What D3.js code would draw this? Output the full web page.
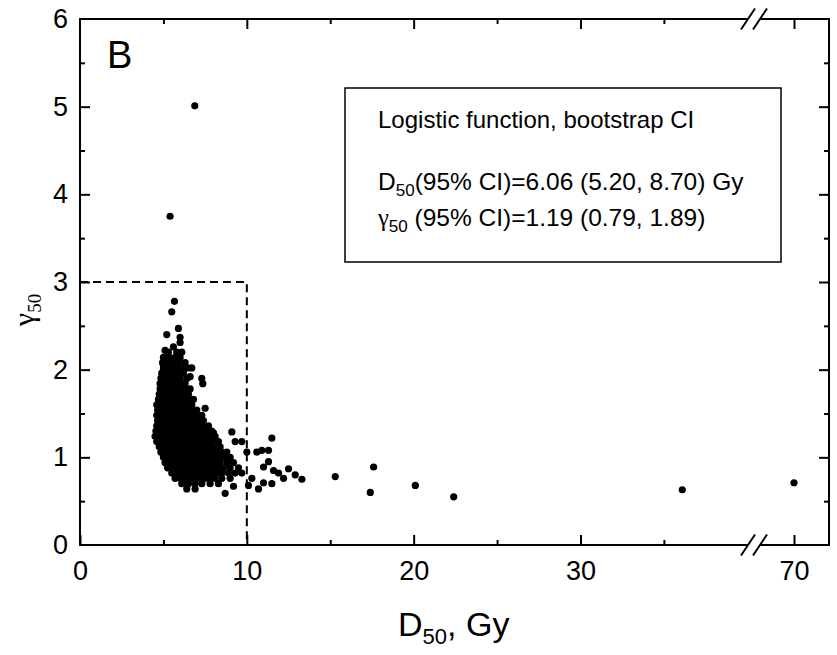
<!DOCTYPE html>
<html><head><meta charset="utf-8">
<script src="https://cdn.jsdelivr.net/npm/d3@7"></script>
<style>body{margin:0;background:#fff}svg{display:block}text{font-family:"Liberation Sans",Arial,sans-serif;fill:#000}</style>
</head><body>
<svg id="c" width="837" height="655"></svg>
<script>
// ---- data ----
const xTicksMajor = [0, 10, 20, 30];
const xTicksMinor = [5, 15, 25, 35];
const xTicksRight = [70];
const yTicksMajor = [0, 1, 2, 3, 4, 5, 6];
const yTicksMinor = [0.5, 1.5, 2.5, 3.5, 4.5, 5.5];
// dense bootstrap cluster, rows of [gamma50, [D50 values]]
const clusterRows = [
  [2.20, [5.3, 5.8]],
  [2.14, [5.0, 5.35, 5.7, 6.0]],
  [2.08, [4.95, 5.3, 5.6, 5.9, 6.3]],
  [2.02, [5.0, 5.2, 5.5, 5.8, 6.1, 6.45]],
  [1.96, [4.9, 5.25, 5.55, 5.85, 6.2]],
  [1.90, [4.85, 5.1, 5.4, 5.7, 6.0, 6.4]],
  [1.84, [4.8, 5.05, 5.35, 5.65, 5.95, 6.3]],
  [1.78, [4.8, 5.1, 5.4, 5.7, 6.0, 6.3, 6.6]],
  [1.72, [4.75, 5.0, 5.3, 5.6, 5.9, 6.2, 6.5]],
  [1.66, [4.7, 4.95, 5.25, 5.55, 5.85, 6.15, 6.5, 6.8]],
  [1.60, [4.6, 4.9, 5.2, 5.5, 5.8, 6.1, 6.4, 6.7]],
  [1.54, [4.65, 4.95, 5.25, 5.55, 5.85, 6.15, 6.45, 6.8, 7.0]],
  [1.48, [4.6, 4.9, 5.2, 5.5, 5.8, 6.1, 6.4, 6.7, 7.0, 7.3]],
  [1.42, [4.65, 4.95, 5.25, 5.55, 5.85, 6.15, 6.45, 6.75, 7.05, 7.4]],
  [1.36, [4.6, 4.9, 5.2, 5.5, 5.8, 6.1, 6.4, 6.7, 7.0, 7.3, 7.7]],
  [1.30, [4.55, 4.85, 5.15, 5.45, 5.75, 6.05, 6.35, 6.65, 6.95, 7.25, 7.55, 7.9]],
  [1.24, [4.5, 4.8, 5.1, 5.4, 5.7, 6.0, 6.3, 6.6, 6.9, 7.2, 7.5, 7.8, 8.1]],
  [1.18, [4.6, 4.9, 5.2, 5.5, 5.8, 6.1, 6.4, 6.7, 7.0, 7.3, 7.6, 7.9, 8.3]],
  [1.12, [4.75, 5.05, 5.35, 5.65, 5.95, 6.25, 6.55, 6.85, 7.15, 7.45, 7.75, 8.05, 8.4]],
  [1.06, [4.85, 5.15, 5.45, 5.75, 6.05, 6.35, 6.65, 6.95, 7.25, 7.55, 7.85, 8.15, 8.5, 8.8]],
  [1.00, [5.0, 5.3, 5.6, 5.9, 6.2, 6.5, 6.8, 7.1, 7.4, 7.7, 8.0, 8.3, 8.65, 9.0]],
  [0.94, [5.1, 5.4, 5.7, 6.0, 6.3, 6.6, 6.9, 7.2, 7.5, 7.8, 8.1, 8.4, 8.8, 9.2]],
  [0.88, [5.25, 5.55, 5.85, 6.15, 6.45, 6.75, 7.05, 7.35, 7.65, 7.95, 8.25, 8.6, 9.0, 9.5]],
  [0.82, [5.5, 5.8, 6.1, 6.4, 6.7, 7.0, 7.3, 7.6, 7.9, 8.2, 8.5, 8.9, 9.3, 9.7]],
  [0.76, [5.7, 6.0, 6.3, 6.6, 6.9, 7.2, 7.5, 7.8, 8.1, 8.5, 9.0]],
  [0.70, [6.1, 6.5, 6.9, 7.3, 7.8, 8.3]],
  [0.64, [6.4, 6.9]]
];
const topPoints = [[5.66,2.78],[5.5,2.66],[5.9,2.47],[5.2,2.40],[6.0,2.37],[6.0,2.31],[5.6,2.26],[5.1,2.22],[6.1,2.2],[6.7,2.02],[6.6,1.92],[5.0,2.05],[7.3,1.90],[7.36,1.84],[7.5,1.56],[8.0,1.28],[8.7,0.59],[9.2,0.67]];
const tailPoints = [[9.1,1.29],[9.3,1.18],[9.7,1.18],[11.5,1.22],[10.0,1.06],[10.6,1.06],[10.9,1.08],[11.3,1.08],[11.3,0.95],[11.0,0.89],[11.6,0.85],[11.9,0.82],[12.5,0.87],[12.2,0.76],[12.9,0.80],[13.3,0.75],[10.3,0.76],[10.1,0.68],[10.7,0.64],[11.0,0.71],[11.5,0.70],[15.3,0.78],[17.6,0.89],[17.4,0.60],[20.1,0.68],[22.4,0.55],[36.1,0.63],[70.0,0.71]];
const outlierPoints = [[6.88,5.01],[5.4,3.75]];
const boxPath = [[0,3],[10,3],[10,0]];

// ---- chart ----
const svg = d3.select("#c");
const L = 80, R = 829, T = 19, B = 545, BRK = 754;
const xL = d3.scaleLinear().domain([0, 40.4]).range([L, BRK]);
const xR = d3.scaleLinear().domain([67.6, 72.1]).range([BRK, R]);
const x = v => v > 50 ? xR(v) : xL(v);
const y = d3.scaleLinear().domain([0, 6]).range([B, T]);

const allPts = [];
clusterRows.forEach(([g, xs]) => xs.forEach(d => allPts.push([d, g])));
topPoints.concat(tailPoints, outlierPoints).forEach(p => allPts.push(p));

// dashed region
svg.append("path")
  .attr("d", d3.line().x(d => x(d[0])).y(d => y(d[1]))(boxPath))
  .attr("fill", "none").attr("stroke", "#000").attr("stroke-width", 2).attr("stroke-dasharray", "8,5");

// points
svg.append("g").selectAll("circle").data(allPts).join("circle")
  .attr("cx", d => x(d[0])).attr("cy", d => y(d[1])).attr("r", 3.6).attr("fill", "#000");

// axes (ticks inward)
function styleAx(g, labels) {
  g.select(".domain").remove();
  g.selectAll("line").attr("stroke", "#000").attr("stroke-width", 2);
  if (!labels) g.selectAll("text").remove();
  else g.selectAll("text").attr("font-size", 27).attr("font-family", "Liberation Sans, Arial, sans-serif");
}
// bottom
svg.append("g").attr("transform", `translate(0,${B})`)
  .call(d3.axisBottom(xL).tickValues(xTicksMajor).tickSize(-10).tickPadding(16).tickFormat(d3.format("d")))
  .call(g => styleAx(g, true));
svg.append("g").attr("transform", `translate(0,${B})`)
  .call(d3.axisBottom(xL).tickValues(xTicksMinor).tickSize(-5)).call(g => styleAx(g, false));
svg.append("g").attr("transform", `translate(0,${B})`)
  .call(d3.axisBottom(xR).tickValues(xTicksRight).tickSize(-10).tickPadding(16).tickFormat(d3.format("d")))
  .call(g => styleAx(g, true));
// top
svg.append("g").attr("transform", `translate(0,${T})`)
  .call(d3.axisTop(xL).tickValues(xTicksMajor.slice(1)).tickSize(-10)).call(g => styleAx(g, false));
svg.append("g").attr("transform", `translate(0,${T})`)
  .call(d3.axisTop(xL).tickValues(xTicksMinor).tickSize(-5)).call(g => styleAx(g, false));
svg.append("g").attr("transform", `translate(0,${T})`)
  .call(d3.axisTop(xR).tickValues(xTicksRight).tickSize(-10)).call(g => styleAx(g, false));
// left
svg.append("g").attr("transform", `translate(${L},0)`)
  .call(d3.axisLeft(y).tickValues(yTicksMajor).tickSize(-10).tickPadding(12).tickFormat(d3.format("d")))
  .call(g => styleAx(g, true))
  .call(g => g.selectAll(".tick line").filter(d => d === 0 || d === 6).remove());
svg.append("g").attr("transform", `translate(${L},0)`)
  .call(d3.axisLeft(y).tickValues(yTicksMinor).tickSize(-5)).call(g => styleAx(g, false));
// right
svg.append("g").attr("transform", `translate(${R},0)`)
  .call(d3.axisRight(y).tickValues(yTicksMajor.slice(1, -1)).tickSize(-10)).call(g => styleAx(g, false));
svg.append("g").attr("transform", `translate(${R},0)`)
  .call(d3.axisRight(y).tickValues(yTicksMinor).tickSize(-5)).call(g => styleAx(g, false));

// frame with break
const fr = svg.append("g").attr("stroke", "#000").attr("stroke-width", 2).attr("fill", "none");
fr.append("line").attr("x1", L).attr("x2", L).attr("y1", T - 1).attr("y2", B + 1);
fr.append("line").attr("x1", R).attr("x2", R).attr("y1", T - 1).attr("y2", B + 1);
[T, B].forEach(yy => {
  fr.append("line").attr("x1", L).attr("x2", BRK - 6).attr("y1", yy).attr("y2", yy);
  fr.append("line").attr("x1", BRK + 6).attr("x2", R).attr("y1", yy).attr("y2", yy);
  [-6, 6].forEach(o => fr.append("line")
    .attr("x1", BRK + o - 7).attr("y1", yy + 10.5).attr("x2", BRK + o + 7).attr("y2", yy - 10.5));
});

// legend box
svg.append("rect").attr("x", 345).attr("y", 88).attr("width", 436).attr("height", 174)
  .attr("fill", "none").attr("stroke", "#000").attr("stroke-width", 1.5);
svg.append("text").attr("x", 378).attr("y", 128).attr("font-size", 24).text("Logistic function, bootstrap CI");
const t2 = svg.append("text").attr("x", 378).attr("y", 190).attr("font-size", 24.5);
t2.append("tspan").text("D");
t2.append("tspan").attr("font-size", 17).attr("dy", 6).text("50");
t2.append("tspan").attr("dy", -6).text("(95% CI)=6.06 (5.20, 8.70) Gy");
const t3 = svg.append("text").attr("x", 378).attr("y", 226).attr("font-size", 24.5);
t3.append("tspan").attr("font-family", "Liberation Serif, serif").text("γ");
t3.append("tspan").attr("font-size", 17).attr("dy", 6).text("50");
t3.append("tspan").attr("dy", -6).text(" (95% CI)=1.19 (0.79, 1.89)");

// panel label
svg.append("text").attr("x", 107).attr("y", 68).attr("font-size", 38).text("B");

// axis titles
const xt = svg.append("text").attr("x", 398).attr("y", 636).attr("font-size", 34);
xt.append("tspan").text("D");
xt.append("tspan").attr("font-size", 22).attr("dy", 8).text("50");
xt.append("tspan").attr("dy", -8).text(", Gy");
const yt = svg.append("text").attr("transform", "translate(34,310) rotate(-90)").attr("text-anchor", "middle").attr("font-size", 30);
yt.append("tspan").attr("font-family", "Liberation Serif, serif").text("γ");
yt.append("tspan").attr("font-size", 19).attr("font-family", "Liberation Serif, serif").attr("dy", 7).text("50");
</script>
</body></html>
